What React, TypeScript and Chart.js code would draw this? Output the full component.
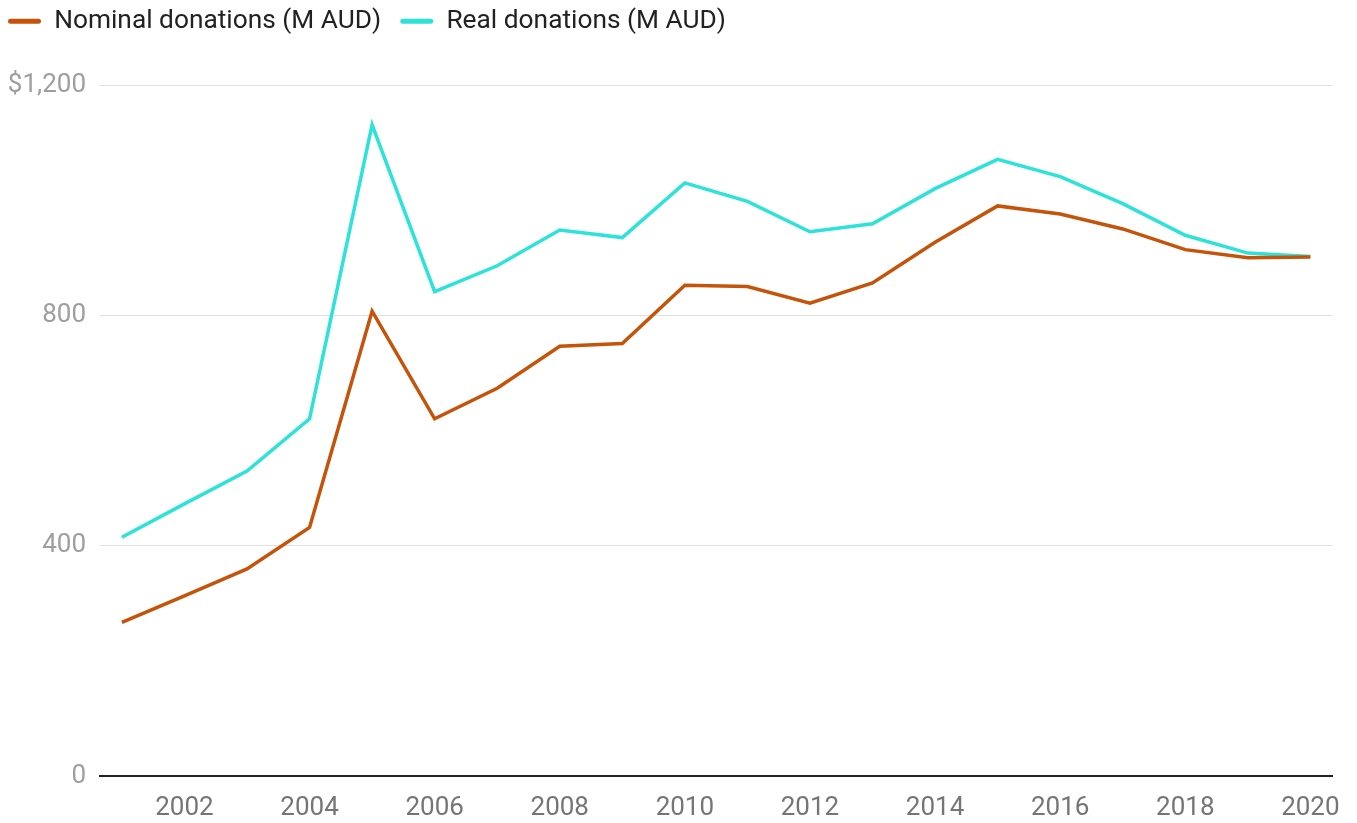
import React, { useEffect, useRef } from "react";
import { Chart, registerables } from "chart.js";

Chart.register(...registerables);

const years = [2001, 2002, 2003, 2004, 2005, 2006, 2007, 2008, 2009, 2010, 2011, 2012, 2013, 2014, 2015, 2016, 2017, 2018, 2019, 2020];
const nominalDonations = [267, 313, 360, 432, 808, 621, 674, 747, 752, 853, 851, 822, 857, 928, 991, 977, 951, 915, 901, 902];
const realDonations = [415, 473, 530, 621, 1132, 842, 887, 949, 936, 1031, 999, 946, 960, 1021, 1072, 1042, 995, 940, 909, 903];
const xTickYears = [2002, 2004, 2006, 2008, 2010, 2012, 2014, 2016, 2018, 2020];
const yTickValues = [0, 400, 800, 1200];
const seriesNames = ["Nominal donations (M AUD)", "Real donations (M AUD)"];

const ORANGE = "#c5540a";
const CYAN = "#2de3d9";

export default function App() {
  const canvasRef = useRef<HTMLCanvasElement | null>(null);

  useEffect(() => {
    if (!canvasRef.current) return;
    const legendSpacer = {
      id: "legendSpacer",
      beforeInit(chart: any) {
        const legend = chart.legend;
        if (!legend) return;
        const origFit = legend.fit;
        legend.fit = function () {
          origFit.call(this);
          this.height += 41.4;
        };
      },
    };
    const chart = new Chart(canvasRef.current, {
      type: "line",
      data: {
        datasets: [
          {
            label: seriesNames[0],
            data: years.map((y, i) => ({ x: y, y: nominalDonations[i] })),
            borderColor: ORANGE,
            backgroundColor: ORANGE,
            borderWidth: 3.5,
            pointRadius: 0,
            tension: 0,
          },
          {
            label: seriesNames[1],
            data: years.map((y, i) => ({ x: y, y: realDonations[i] })),
            borderColor: CYAN,
            backgroundColor: CYAN,
            borderWidth: 3.5,
            pointRadius: 0,
            tension: 0,
          },
        ],
      },
      options: {
        animation: false,
        responsive: true,
        maintainAspectRatio: false,
        layout: { padding: { left: 0, right: 23, top: 0, bottom: 0 } },
        plugins: {
          tooltip: { enabled: false },
          legend: {
            position: "top",
            align: "start",
            labels: {
              boxWidth: 33,
              boxHeight: 5,
              padding: 19,
              color: "#222222",
              font: { family: "Roboto", size: 26.3 },
              useBorderRadius: true,
              borderRadius: 2.5,
              generateLabels: (ch: any) => {
                const items = Chart.defaults.plugins.legend.labels.generateLabels(ch);
                return items.map((it: any) => ({
                  ...it,
                  fillStyle: it.strokeStyle,
                  lineWidth: 0,
                  borderRadius: 2.5,
                }));
              },
            },
          },
        },
        scales: {
          x: {
            type: "linear",
            min: 2000.65,
            max: 2020.35,
            afterBuildTicks: (scale: any) => {
              scale.ticks = xTickYears.map((v) => ({ value: v }));
            },
            afterFit: (scale: any) => {
              scale.height = 47;
            },
            grid: { display: false, drawTicks: false },
            border: { display: true, color: "#222222", width: 2 },
            ticks: {
              color: "#757575",
              font: { family: "Roboto", size: 26 },
              padding: 17,
              maxRotation: 0,
              autoSkip: false,
              callback: (v: any) => String(v),
            },
          },
          y: {
            type: "linear",
            min: 0,
            max: 1200,
            afterBuildTicks: (scale: any) => {
              scale.ticks = yTickValues.map((v) => ({ value: v }));
            },
            afterFit: (scale: any) => {
              scale.width = 111;
            },
            grid: { color: "#e0e0e0", lineWidth: 1, drawTicks: false },
            border: { display: false },
            ticks: {
              color: "#9e9e9e",
              font: { family: "Roboto", size: 26 },
              padding: 14,
              callback: (v: any) => (v === 1200 ? "$1,200" : String(v)),
            },
          },
        },
      },
      plugins: [legendSpacer],
    });
    return () => chart.destroy();
  }, []);

  return (
    <div style={{ position: "absolute", left: -11, top: -11, width: 1368, height: 834 }}>
      <canvas ref={canvasRef} />
    </div>
  );
}
